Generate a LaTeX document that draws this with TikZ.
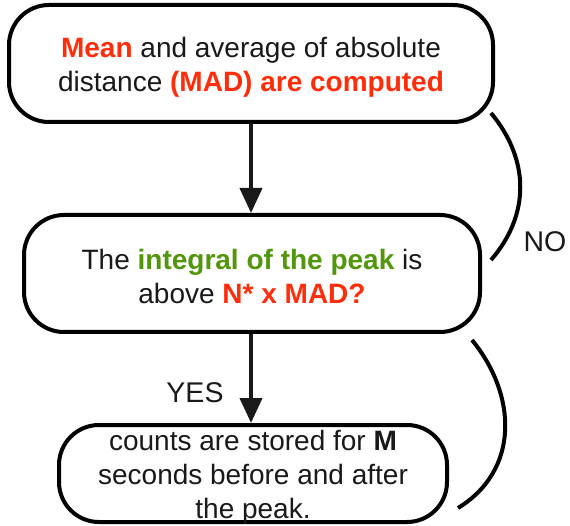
\documentclass[tikz,border=0pt]{standalone}
\usepackage{fontspec}
\setmainfont{Liberation Sans}
\usetikzlibrary{arrows.meta}
\definecolor{hotred}{RGB}{255,45,10}
\definecolor{leafgreen}{RGB}{82,150,12}
\definecolor{ink}{RGB}{25,25,25}
\begin{document}
\begin{tikzpicture}[x=1pt,y=-1pt,
  stepbox/.style={draw=black, line width=4pt, rounded corners=40pt, fill=white,
    inner sep=0pt},
  boxtext/.style={inner sep=0pt, align=center, text=ink,
    font=\fontsize{28}{34}\selectfont},
  flow/.style={line width=4pt, draw=black!90, -{Triangle[length=25pt,width=22pt]}},
  loop/.style={line width=4pt, draw=black},
  tag/.style={font=\fontsize{28.5}{34}\selectfont, inner sep=0pt, text=ink}]
  \useasboundingbox (0,0) rectangle (570,526);

  % process boxes
  \node[stepbox, minimum width=484pt, minimum height=117pt] (b1) at (251,63.5) {};
  \node[stepbox, minimum width=456pt, minimum height=117pt] (b2) at (252,273.5) {};
  \node[stepbox, minimum width=388pt, minimum height=97pt] (b3) at (253,473.5) {};

  % box texts
  \node[boxtext] (t1) at (251,67.5)
    {\textcolor{hotred}{\textbf{Mean}} and average of absolute\\
     distance \textcolor{hotred}{\textbf{(MAD) are computed}}};
  \node[boxtext] (t2) at (252,276.5)
    {The \textcolor{leafgreen}{\textbf{integral of the peak}} is\\
     above \textcolor{hotred}{\textbf{N* x MAD?}}};
  \node[boxtext] (t3) at (253,477)
    {counts are stored for \textbf{M}\\
     seconds before and after\\
     the peak.};

  % main flow
  \draw[flow] (b1.south) -- (b1.south |- b2.north);
  \draw[flow] (b2.south -| b1.south) -- (b1.south |- b3.north);

  % loop-back arcs
  \coordinate (n1) at (491,113);
  \coordinate (n2) at (491,260);
  \coordinate (y1) at (472,340);
  \coordinate (y2) at (458,508);
  \draw[loop] (n1) .. controls (530,160) and (530,215) .. (n2);
  \draw[loop] (y1) .. controls (517,395) and (520,470) .. (y2);

  % labels
  \node[tag] (no) at (545,242) {NO};
  \node[tag] (yes) at (195,393) {YES};
\end{tikzpicture}
\end{document}
